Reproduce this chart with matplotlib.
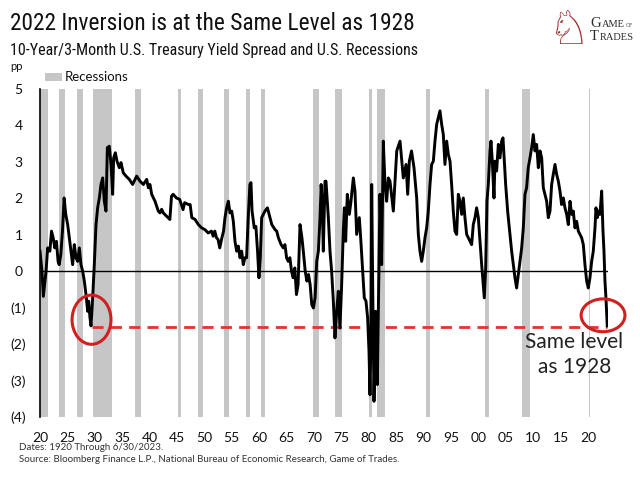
import matplotlib
matplotlib.use("Agg")
import matplotlib.pyplot as plt
from matplotlib.patches import Ellipse, Rectangle
from matplotlib import font_manager
from matplotlib.font_manager import FontProperties

# ---------------- data ----------------
years = [
    1920.0, 1920.36, 1920.61, 1921.1, 1921.4, 1921.8, 1922.1, 1922.4, 1922.7, 1923.0,
    1923.3, 1923.5, 1923.8, 1924.1, 1924.4, 1924.7, 1925.05, 1925.35, 1925.65, 1925.96,
    1926.26, 1926.57, 1926.87, 1927.18, 1927.48, 1927.79, 1928.09, 1928.39, 1928.7, 1928.88,
    1929.12, 1929.31, 1929.61, 1929.91, 1930.22, 1930.52, 1930.83, 1931.13, 1931.44, 1931.74,
    1932.04, 1932.29, 1932.65, 1932.96, 1933.26, 1933.44, 1933.75, 1934.05, 1934.48, 1934.78,
    1935.2, 1935.69, 1936.3, 1936.9,
    1937.64, 1938.25, 1938.86, 1939.47, 1939.77, 1940.07, 1940.38, 1940.99, 1941.59, 1941.9,
    1942.2, 1942.5, 1943.1, 1943.7, 1944.0, 1944.3, 1944.9, 1945.5, 1945.8, 1946.1,
    1946.4, 1947.1, 1947.4, 1947.7, 1948.3, 1948.9, 1949.5, 1950.1, 1950.7, 1951.3,
    1951.6, 1951.9, 1952.2, 1952.5, 1952.8, 1953.2, 1953.5,
    1953.76, 1954.06, 1954.37, 1954.67, 1954.98, 1955.28, 1955.58, 1955.89, 1956.19, 1956.5,
    1956.8, 1957.1, 1957.4, 1957.7, 1958.0, 1958.3, 1958.5, 1958.7, 1959.1, 1959.4,
    1959.7, 1959.96, 1960.2, 1960.45, 1960.75, 1961.06, 1961.5, 1961.97, 1962.3, 1962.9,
    1963.2, 1963.5, 1964.0, 1964.4, 1964.7, 1965.0, 1965.3, 1965.6, 1965.9, 1966.2,
    1966.5, 1966.8, 1967.1, 1967.45, 1967.8, 1968.05, 1968.4, 1968.7, 1969.0, 1969.3,
    1969.6, 1969.9, 1970.2, 1970.5, 1970.8, 1971.1, 1971.3,
    1971.5, 1971.7, 1972.01, 1972.19, 1972.62, 1972.92, 1973.22, 1973.53, 1973.83, 1974.14,
    1974.44, 1974.74, 1975.05, 1975.35, 1975.54, 1975.78, 1976.08, 1976.45, 1976.75, 1977.18,
    1977.48, 1977.79, 1978.27, 1978.52, 1978.88, 1979.18, 1979.49, 1979.79, 1980.04, 1980.22,
    1980.4, 1980.53, 1980.71, 1980.95, 1981.25, 1981.56, 1981.86, 1982.04, 1982.35, 1982.65,
    1982.96, 1983.26, 1983.57, 1983.87, 1984.48, 1985.1, 1985.7, 1986.3, 1986.8, 1987.1,
    1987.4, 1987.8, 1988.25,
    1988.74, 1989.04, 1989.34, 1989.65, 1989.95, 1990.26, 1990.56, 1990.86, 1991.17, 1991.47,
    1991.78, 1992.08, 1992.39, 1992.69, 1992.99, 1993.3, 1993.6, 1993.9, 1994.21, 1994.51,
    1994.82, 1995.12, 1995.42, 1995.73, 1996.03, 1996.34, 1996.64, 1996.95, 1997.25, 1997.55,
    1997.86, 1998.16, 1998.47, 1998.77, 1999.07, 1999.38, 1999.68, 1999.99, 2000.29, 2000.6,
    2000.9, 2001.08, 2001.33, 2001.57, 2001.81, 2002.12, 2002.3, 2002.54, 2002.85, 2003.03,
    2003.33, 2003.64, 2003.94, 2004.25, 2004.49, 2004.73, 2004.98, 2005.34, 2005.71,
    2006.07, 2006.37, 2006.68, 2006.98, 2007.29, 2007.59, 2007.9, 2008.2, 2008.5, 2008.8,
    2009.1, 2009.42, 2009.72, 2010.02, 2010.33, 2010.63, 2010.94, 2011.24, 2011.55, 2011.85,
    2012.15, 2012.46, 2012.76, 2013.07, 2013.37, 2013.67, 2013.98, 2014.28, 2014.59, 2014.89,
    2015.19, 2015.5, 2015.8, 2016.11, 2016.41, 2016.72, 2017.02, 2017.32, 2017.63, 2017.93,
    2018.24, 2018.54, 2018.84, 2019.15, 2019.45, 2019.76, 2020.06, 2020.36, 2020.67, 2020.97,
    2021.28, 2021.46, 2021.7, 2021.95, 2022.19, 2022.5, 2022.74, 2022.92, 2023.1, 2023.28,
    2023.52,
]
spread = [
    0.55, 0.0, -0.69, 0.0, 0.64, 0.55, 1.10, 0.92, 0.64, 0.82,
    0.27, 0.18, 0.46, 1.10, 2.01, 1.56, 1.28, 0.92, 0.55, 0.18,
    0.73, 0.37, 0.27, 0.64, 0.18, 0.0, -0.27, -0.64, -1.10, -0.82,
    -1.28, -1.50, -0.73, 0.18, 1.28, 1.74, 2.01, 2.38, 2.56, 1.92,
    1.65, 3.39, 3.43, 2.93, 2.11, 3.11, 3.25, 3.02, 2.84, 2.98,
    2.70, 2.61, 2.52, 2.38,
    2.61, 2.47, 2.38, 2.52, 2.29, 2.38, 2.11, 1.92, 1.65, 1.60,
    1.70, 1.60, 1.51, 1.42, 2.06, 2.11, 2.01, 1.97, 1.83, 1.69,
    1.88, 1.83, 1.83, 1.47, 1.42, 1.28, 1.19, 1.14, 1.05, 1.10,
    0.96, 1.10, 0.92, 0.87, 0.64, 0.92, 1.10,
    1.47, 1.74, 1.92, 1.60, 1.65, 1.37, 0.82, 0.55, 0.69, 0.37,
    0.55, 0.18, 0.37, 0.37, 1.47, 2.38, 2.43, 1.65, 1.19, 1.23,
    0.55, -0.18, 0.37, 1.47, 1.56, 1.65, 1.74, 1.47, 1.28, 1.14,
    1.10, 0.92, 0.73, 0.64, 0.73, 0.37, 0.27, 0.37, 0.0, -0.18,
    0.09, -0.64, -0.37, 1.28, 0.92, 0.55, 0.0, -0.27, -0.09, -0.37,
    -0.92, -1.01, -0.73, 0.27, 0.55, 1.47, 2.38,
    1.90, 0.55, 2.47, 2.47, 1.47, 0.55, 0.0, -0.82, -1.83, -1.10,
    -0.55, -1.56, -0.37, 1.10, 1.74, 0.82, 2.11, 1.56, 1.92, 2.56,
    2.20, 1.01, 1.47, 0.92, 0.0, -0.73, -0.82, -1.28, -2.20, -3.39,
    -1.74, 2.38, -0.37, -3.57, -1.10, -3.11, 0.09, 2.11, 0.18, 3.57,
    2.38, 1.92, 2.56, 2.47, 1.65, 3.30, 3.57, 2.56, 2.93, 2.11,
    3.02, 3.30, 2.84,
    2.01, 1.01, 0.55, 0.27, 0.55, 0.92, 1.19, 1.65, 2.38, 2.93,
    3.02, 3.57, 4.03, 4.21, 4.40, 4.03, 3.75, 2.93, 3.57, 3.21,
    3.02, 2.38, 1.65, 1.10, 1.01, 2.11, 1.92, 1.56, 2.01, 1.47,
    1.01, 0.92, 0.82, 0.73, 1.28, 1.47, 1.74, 1.47, 0.82, 0.18,
    -0.37, -0.73, 0.09, 1.92, 2.38, 3.30, 3.57, 3.02, 2.01, 3.02,
    2.75, 3.48, 3.11, 3.57, 3.66, 3.02, 2.38, 1.65, 1.10,
    0.55, 0.18, -0.18, -0.46, -0.09, 0.27, 0.64, 1.19, 2.11, 2.29,
    2.84, 3.11, 3.39, 3.75, 3.30, 3.48, 2.84, 3.30, 3.11, 2.29,
    2.11, 1.92, 1.47, 1.65, 2.38, 2.66, 2.93, 2.66, 2.47, 2.20,
    1.83, 2.01, 1.74, 1.56, 1.28, 1.92, 1.56, 1.65, 1.19, 1.37,
    1.10, 1.01, 0.92, 0.73, 0.18, -0.27, -0.46, -0.18, 0.27, 0.55,
    1.19, 1.74, 1.47, 1.65, 1.56, 2.20, 1.10, 0.55, -0.27, -0.73,
    -1.50,
]

rec_start = [1920.0, 1923.4, 1926.8, 1929.6, 1937.4, 1945.1, 1948.9, 1953.5, 1957.6,
             1960.3, 1969.9, 1973.9, 1980.0, 1981.5, 1990.5, 2001.2, 2007.9, 2020.1]
rec_end = [1921.5, 1924.5, 1927.9, 1933.2, 1938.5, 1945.8, 1949.8, 1954.4, 1958.3,
           1961.1, 1970.9, 1975.2, 1980.5, 1982.9, 1991.2, 2001.9, 2009.5, 2020.3]

xtick_years = list(range(1920, 2021, 5))
xtick_labels = ["20", "25", "30", "35", "40", "45", "50", "55", "60", "65", "70",
                "75", "80", "85", "90", "95", "00", "05", "10", "15", "20"]
ytick_vals = [5, 4, 3, 2, 1, 0, -1, -2, -3, -4]
ytick_labels = ["5", "4", "3", "2", "1", "0", "(1)", "(2)", "(3)", "(4)"]

level_1928 = -1.53
level_start = 1929.5
circle1 = (1929.4, -1.33)
circle2 = (2022.75, -1.21)

TITLE = "2022 Inversion is at the Same Level as 1928"
SUBTITLE = "10-Year/3-Month U.S. Treasury Yield Spread and U.S. Recessions"

# ---------------- fonts ----------------
plt.rcParams['font.family'] = ['Lato', 'DejaVu Sans']


def pick_narrow():
    """Look for an installed condensed/narrow sans; fall back to Lato."""
    entries = font_manager.fontManager.ttflist
    for f in entries:
        if f.name == 'Liberation Sans Narrow' and f.style == 'normal' and f.weight in (400, 'normal', 'regular'):
            return FontProperties(fname=f.fname)
    for fam in ('Open Sans', 'Roboto', 'Noto Sans', 'Lato', 'Liberation Sans'):
        for f in entries:
            if (f.name.startswith(fam) and f.style == 'normal'
                    and str(f.stretch) in ('condensed', 'semi-condensed', '500', '400')
                    and str(f.stretch) != 'normal'
                    and ('Condensed' in f.fname or 'Narrow' in f.fname)
                    and f.weight in (300, 400, 'normal', 'regular', 'light')):
                return FontProperties(fname=f.fname)
    return FontProperties(family=['Lato', 'DejaVu Sans'])


narrow_fp = pick_narrow()

# ---------------- figure ----------------
fig = plt.figure(figsize=(6.4, 4.82), dpi=100)
renderer = fig.canvas.get_renderer()
W, H = 640.0, 482.0


def fit_text(x_px, y_px, s, target_w, start_size, **kw):
    fp = narrow_fp.copy()
    fp.set_size(start_size)
    t = fig.text(x_px / W, 1 - y_px / H, s, fontproperties=fp, **kw)
    w = t.get_window_extent(renderer).width
    t.set_fontsize(start_size * target_w / w)
    return t


ax = fig.add_axes([40 / W, 1 - 417 / H, 567.7 / W, 328 / H])
ax.set_xlim(1920, 2023.6)
ax.set_ylim(-4, 5)

for s, e in zip(rec_start, rec_end):
    ax.axvspan(s, e, color="#c6c6c6", lw=0, zorder=0)

ax.axhline(0, color="black", lw=1.0, zorder=2)
ax.plot([level_start, years[-1]], [level_1928, level_1928], color="#e0362c",
        lw=2.0, dashes=(4, 2.6), zorder=3)
ax.plot(years, spread, color="black", lw=2.1, zorder=4, solid_joinstyle="round")

ax.add_patch(Ellipse(circle1, width=7.1, height=1.35, fill=False, edgecolor="#d21f1f",
                     lw=2.2, zorder=5, clip_on=False))
ax.add_patch(Ellipse(circle2, width=8.0, height=0.9, fill=False, edgecolor="#d21f1f",
                     lw=2.2, zorder=5, clip_on=False))

for side in ["top", "right", "bottom"]:
    ax.spines[side].set_visible(False)
ax.spines["left"].set_linewidth(1.2)

ax.set_xticks(xtick_years)
ax.set_xticklabels(xtick_labels)
ax.set_yticks(ytick_vals)
ax.set_yticklabels(ytick_labels)
ax.tick_params(axis="both", length=0, labelsize=10, colors="#111111")
ax.tick_params(axis="x", pad=10.5)
ax.tick_params(axis="y", pad=15.5)
for lab in ax.get_yticklabels():
    lab.set_horizontalalignment("center")

ax.text(2017.55, -2.28, "Same level\nas 1928", ha="center", va="center",
        fontsize=15, color="#222222", linespacing=1.3, zorder=6)

# ---------------- titles and notes ----------------
fit_text(10, 23, TITLE, 405, 20, color="#111111", ha="left", va="center")
fit_text(10, 50, SUBTITLE, 408, 13, color="#111111", ha="left", va="center")
fig.text(10 / W, 1 - 67 / H, "pp", fontsize=8, color="#111111", ha="left", va="center")
fig.patches.append(Rectangle((45 / W, 1 - 81 / H), 17 / W, 8 / H,
                             transform=fig.transFigure, color="#c6c6c6", lw=0))
fig.text(65 / W, 1 - 77 / H, "Recessions", fontsize=9.5, color="#111111",
         ha="left", va="center")

fig.text(19 / W, 1 - 448 / H, "Dates: 1920 Through 6/30/2023.", fontsize=7,
         color="#333333", ha="left", va="center")
fig.text(19 / W, 1 - 460 / H,
         "Source: Bloomberg Finance L.P., National Bureau of Economic Research, Game of Trades.",
         fontsize=7, color="#333333", ha="left", va="center")

# ---------------- logo ----------------
fig.text(568 / W, 1 - 31 / H, "\u2658", fontsize=34, color="#9b3535",
         ha="center", va="center", family="DejaVu Sans")
serif = "Liberation Serif"
g = fig.text(590 / W, 1 - 27 / H, "G", fontsize=10.5, color="#2a2a2a",
             ha="left", va="baseline", family=serif)
x_next = g.get_window_extent(renderer).x1 + 1.2
ame = fig.text(x_next / W, 1 - 27 / H, "AME", fontsize=7.5, color="#2a2a2a",
               ha="left", va="baseline", family=serif)
x_next = ame.get_window_extent(renderer).x1 + 1.2
fig.text(x_next / W, 1 - 27 / H, "OF", fontsize=4, color="#2a2a2a",
         ha="left", va="baseline", family=serif)
t = fig.text(590 / W, 1 - 40 / H, "T", fontsize=10.5, color="#2a2a2a",
             ha="left", va="baseline", family=serif)
x_next = t.get_window_extent(renderer).x1 + 1.2
fig.text(x_next / W, 1 - 40 / H, "RADES", fontsize=7.5, color="#2a2a2a",
         ha="left", va="baseline", family=serif)

fig.savefig("out.png", dpi=100)
